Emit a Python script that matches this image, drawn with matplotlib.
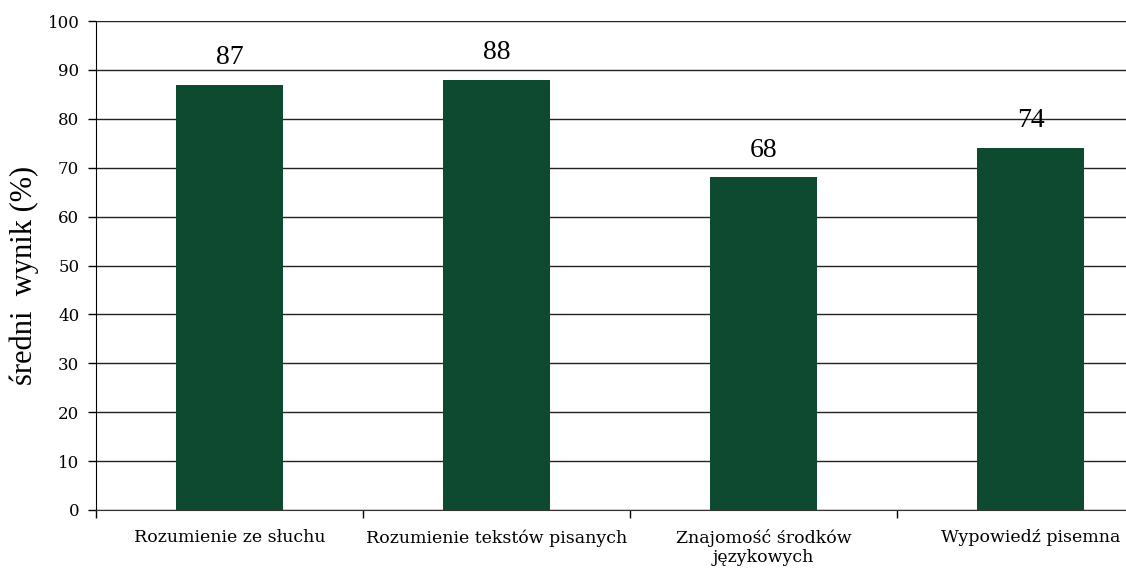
import matplotlib.pyplot as plt

categories = ["Rozumienie ze słuchu", "Rozumienie tekstów pisanych",
              "Znajomość środków\njęzykowych", "Wypowiedź pisemna"]
values = [87, 88, 68, 74]
yticks = [0, 10, 20, 30, 40, 50, 60, 70, 80, 90, 100]

W, H = 1126, 572
fig = plt.figure(figsize=(W / 100, H / 100), dpi=100)
# the original chart is cropped on the right, so the axes run past the figure edge
left, right, top, bottom = 96, 1164, 21, 510
ax = fig.add_axes([left / W, (H - bottom) / H, (right - left) / W, (bottom - top) / H])

x = range(len(values))
bars = ax.bar(x, values, width=0.4, color="#0e4a2f", zorder=3)

for b, v in zip(bars, values):
    ax.text(b.get_x() + b.get_width() / 2, v + 3, str(v), ha="center", va="bottom",
            fontsize=20, family="Liberation Serif")

ax.set_xlim(-0.5, len(values) - 0.5)
ax.set_ylim(0, 100)
ax.set_yticks(yticks)
ax.yaxis.grid(True, color="#222222", linewidth=1.0, zorder=0)
ax.tick_params(axis="y", length=6, width=1, labelsize=12, pad=6)
for lab in ax.get_yticklabels():
    lab.set_family("DejaVu Serif")

ax.set_xticks([i + 0.5 for i in range(-1, len(values) - 1)], minor=False)
ax.set_xticklabels([])
ax.set_xticks(list(x), minor=True)
ax.set_xticklabels(categories, minor=True, fontsize=12.5, family="DejaVu Serif", linespacing=1.1)
ax.tick_params(axis="x", which="major", length=6, width=1, direction="out")
ax.tick_params(axis="x", which="minor", length=0, pad=14)

ax.spines["top"].set_visible(False)
ax.spines["right"].set_visible(False)
ax.spines["left"].set_color("black")
ax.spines["bottom"].set_color("#333333")

ax.set_ylabel("średni  wynik (%)", fontsize=22, family="Liberation Serif")
ax.yaxis.set_label_coords(-0.053, 0.48)

fig.savefig("out.png", dpi=100)
